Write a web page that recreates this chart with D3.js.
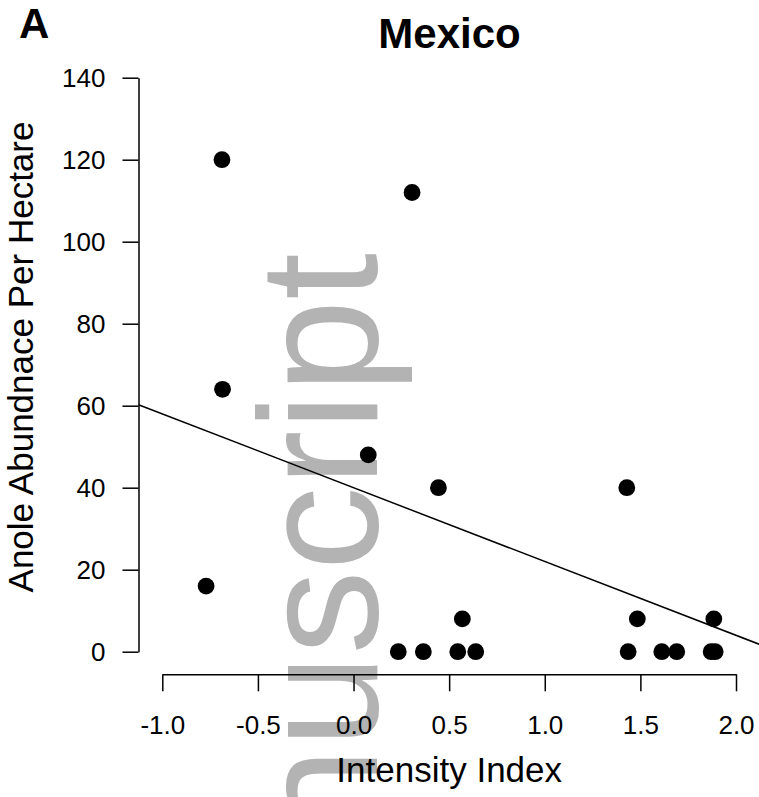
<!DOCTYPE html>
<html>
<head>
<meta charset="utf-8">
<script src="https://cdn.jsdelivr.net/npm/d3@7"></script>
<style>
  body { margin: 0; background: #fff; }
  svg { display: block; font-family: "Liberation Sans", Arial, Helvetica, sans-serif; }
</style>
</head>
<body>
<svg id="chart" width="759" height="797"></svg>
<script>
// data
const intensity = [-0.688, 0.306, -0.685, 0.077, 0.444, 1.429, -0.771,
  0.569, 1.484, 1.884,
  0.234, 0.365, 0.545, 0.639, 1.436, 1.612, 1.690, 1.870, 1.891];
const abundance = [120, 112, 64, 48, 40, 40, 16,
  8, 8, 8,
  0, 0, 0, 0, 0, 0, 0, 0, 0];
const xTicks = [-1.0, -0.5, 0.0, 0.5, 1.0, 1.5, 2.0];
const yTicks = [0, 20, 40, 60, 80, 100, 120, 140];
// fitted line: abundance = intercept + slope * intensity
const fitIntercept = 40;
const fitSlope = -18;

const W = 759, H = 797;
const svg = d3.select('#chart');

const x = d3.scaleLinear().domain([-1, 2]).range([162.3, 736]);
const y = d3.scaleLinear().domain([0, 140]).range([651.7, 77.7]);
const axisX = 138.5;   // where the y axis sits
const axisY = 674.3;   // where the x axis sits

// watermark sits behind everything, clipped by the page edge
svg.append('text')
  .attr('transform', `translate(377,253) rotate(-90)`)
  .attr('text-anchor', 'end')
  .attr('font-size', 168)
  .attr('fill', '#b3b3b3')
  .text('nuscript');

// y axis
const gy = svg.append('g')
  .attr('transform', `translate(${axisX},0)`)
  .call(d3.axisLeft(y).tickValues(yTicks).tickSize(16).tickSizeOuter(0).tickPadding(17));

// x axis
const gx = svg.append('g')
  .attr('transform', `translate(0,${axisY})`)
  .call(d3.axisBottom(x).tickValues(xTicks).tickFormat(d3.format('.1f'))
    .tickSize(17).tickSizeOuter(0).tickPadding(24));

[gx, gy].forEach(g => {
  g.selectAll('path, line').attr('stroke', '#000').attr('stroke-width', 1.5);
  g.selectAll('text').attr('font-size', 26).attr('fill', '#000')
    .style('font-family', '"Liberation Sans", Arial, Helvetica, sans-serif');
});
gx.selectAll('text').text(d => d3.format('.1f')(d).replace('−', '-'));

// regression line, clipped to the plot area
svg.append('clipPath').attr('id', 'plotclip')
  .append('rect').attr('x', axisX).attr('y', 0).attr('width', W - axisX).attr('height', axisY);

const x0 = x.invert(axisX), x1 = x.invert(W);
svg.append('line')
  .attr('clip-path', 'url(#plotclip)')
  .attr('x1', x(x0)).attr('y1', y(fitIntercept + fitSlope * x0))
  .attr('x2', x(x1)).attr('y2', y(fitIntercept + fitSlope * x1))
  .attr('stroke', '#000').attr('stroke-width', 1.5);

// points
svg.append('g').selectAll('circle')
  .data(intensity.map((v, i) => ({ x: v, y: abundance[i] })))
  .join('circle')
  .attr('cx', d => x(d.x))
  .attr('cy', d => y(d.y))
  .attr('r', 8.4)
  .attr('fill', '#000');

// titles
svg.append('text')
  .attr('x', 449.5).attr('y', 48)
  .attr('text-anchor', 'middle')
  .attr('font-size', 42).attr('font-weight', 'bold')
  .text('Mexico');

svg.append('text')
  .attr('x', 19).attr('y', 38)
  .attr('font-size', 42).attr('font-weight', 'bold')
  .text('A');

svg.append('text')
  .attr('x', 449.2).attr('y', 782)
  .attr('text-anchor', 'middle')
  .attr('font-size', 35)
  .text('Intensity Index');

svg.append('text')
  .attr('transform', `translate(33,357) rotate(-90)`)
  .attr('text-anchor', 'middle')
  .attr('font-size', 35)
  .text('Anole Abundnace Per Hectare');
</script>
</body>
</html>
